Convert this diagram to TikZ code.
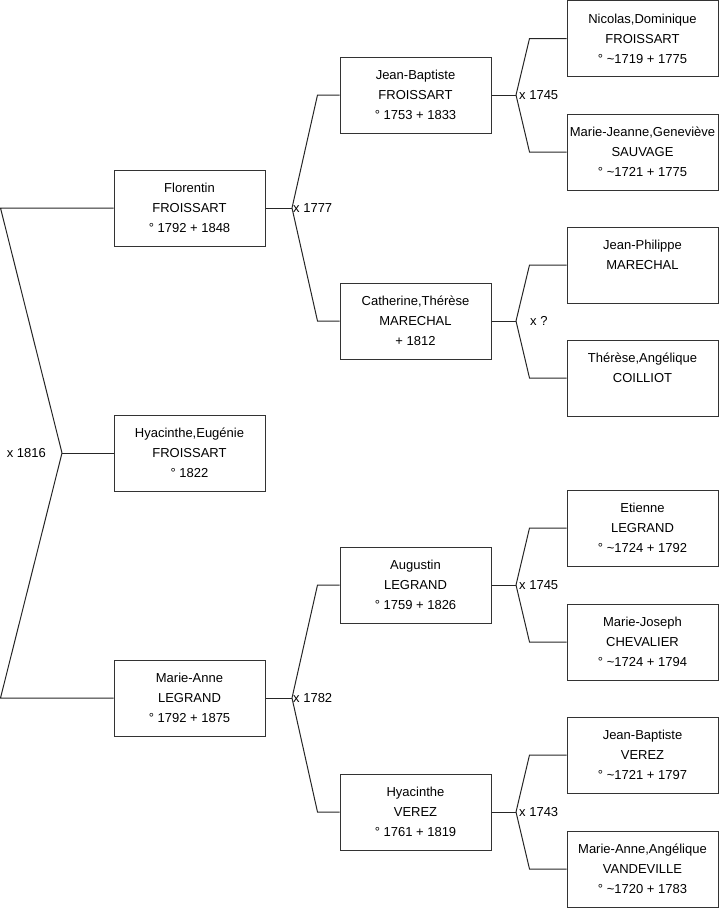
\documentclass[tikz,border=0pt]{standalone}
\usepackage{fontspec}
\setmainfont{Liberation Sans}

\begin{document}
\begin{tikzpicture}[x=1pt, y=-1pt,
  person/.style={draw=black!80, line width=1pt, minimum width=151pt, minimum height=76pt,
    inner xsep=0pt, inner ysep=0pt, align=center, font=\fontsize{13}{20}\selectfont},
  link/.style={black!85, line width=1pt},
  wed/.style={inner sep=0pt, font=\fontsize{13}{16}\selectfont}]
  \useasboundingbox (0,0) rectangle (719,908);

  % Children
  \node[person] (flo) at (189.5,208) {Florentin\\FROISSART\\° 1792 + 1848};
  \node[person] (hye) at (189.5,453) {Hyacinthe,Eugénie\\FROISSART\\° 1822};
  \node[person] (man) at (189.5,698) {Marie-Anne\\LEGRAND\\° 1792 + 1875};

  % Parents
  \node[person] (jbf) at (415.5,95)  {Jean-Baptiste\\FROISSART\\° 1753 + 1833};
  \node[person] (cat) at (415.5,321) {Catherine,Thérèse\\MARECHAL\\+ 1812};
  \node[person] (aug) at (415.5,585) {Augustin\\LEGRAND\\° 1759 + 1826};
  \node[person] (hyv) at (415.5,812) {Hyacinthe\\VEREZ\\° 1761 + 1819};

  % Grandparents
  \node[person] (nic) at (642.5,38.5) {Nicolas,Dominique\\FROISSART\\° \textasciitilde1719 + 1775};
  \node[person] (mjg) at (642.5,152)  {Marie-Jeanne,Geneviève\\SAUVAGE\\° \textasciitilde1721 + 1775};
  \node[person] (jph) at (642.5,265)  {Jean-Philippe\\MARECHAL\\\mbox{}};
  \node[person] (tac) at (642.5,378)  {Thérèse,Angélique\\COILLIOT\\\mbox{}};
  \node[person] (eti) at (642.5,528)  {Etienne\\LEGRAND\\° \textasciitilde1724 + 1792};
  \node[person] (mjo) at (642.5,642)  {Marie-Joseph\\CHEVALIER\\° \textasciitilde1724 + 1794};
  \node[person] (jbv) at (642.5,755)  {Jean-Baptiste\\VEREZ\\° \textasciitilde1721 + 1797};
  \node[person] (maa) at (642.5,869)  {Marie-Anne,Angélique\\VANDEVILLE\\° \textasciitilde1720 + 1783};

  % Fork points
  \coordinate (w0) at (62,453);
  \coordinate (w1) at (292,208);
  \coordinate (w2) at (292,698);
  \coordinate (w3) at (516,95);
  \coordinate (w4) at (516,321);
  \coordinate (w5) at (516,585);
  \coordinate (w6) at (516,812);

  % Marriage 1816
  \draw[link] (hye.west) -- (w0);
  \draw[link] (w0) -- ([xshift=-113pt]flo.west) -- (flo.west);
  \draw[link] (w0) -- ([xshift=-113pt]man.west) -- (man.west);
  \node[wed, anchor=east] (m0) at ([xshift=-16pt]w0) {x 1816};

  % Marriage 1777
  \draw[link] (flo.east) -- (w1);
  \draw[link] (w1) -- ([xshift=-22pt]jbf.west) -- (jbf.west);
  \draw[link] (w1) -- ([xshift=-22pt]cat.west) -- (cat.west);
  \node[wed, anchor=west] (m1) at ([xshift=1pt]w1) {x 1777};

  % Marriage 1782
  \draw[link] (man.east) -- (w2);
  \draw[link] (w2) -- ([xshift=-22pt]aug.west) -- (aug.west);
  \draw[link] (w2) -- ([xshift=-22pt]hyv.west) -- (hyv.west);
  \node[wed, anchor=west] (m2) at ([xshift=1pt]w2) {x 1782};

  % Marriage 1745 (Froissart)
  \draw[link] (jbf.east) -- (w3);
  \draw[link] (w3) -- ([xshift=-37pt]nic.west) -- (nic.west);
  \draw[link] (w3) -- ([xshift=-37pt]mjg.west) -- (mjg.west);
  \node[wed, anchor=west] (m3) at ([xshift=3pt]w3) {x 1745};

  % Marriage ? (Marechal)
  \draw[link] (cat.east) -- (w4);
  \draw[link] (w4) -- ([xshift=-37pt]jph.west) -- (jph.west);
  \draw[link] (w4) -- ([xshift=-37pt]tac.west) -- (tac.west);
  \node[wed, anchor=west] (m4) at ([xshift=14pt]w4) {x ?};

  % Marriage 1745 (Legrand)
  \draw[link] (aug.east) -- (w5);
  \draw[link] (w5) -- ([xshift=-37pt]eti.west) -- (eti.west);
  \draw[link] (w5) -- ([xshift=-37pt]mjo.west) -- (mjo.west);
  \node[wed, anchor=west] (m5) at ([xshift=3pt]w5) {x 1745};

  % Marriage 1743 (Verez)
  \draw[link] (hyv.east) -- (w6);
  \draw[link] (w6) -- ([xshift=-37pt]jbv.west) -- (jbv.west);
  \draw[link] (w6) -- ([xshift=-37pt]maa.west) -- (maa.west);
  \node[wed, anchor=west] (m6) at ([xshift=3pt]w6) {x 1743};
\end{tikzpicture}
\end{document}
